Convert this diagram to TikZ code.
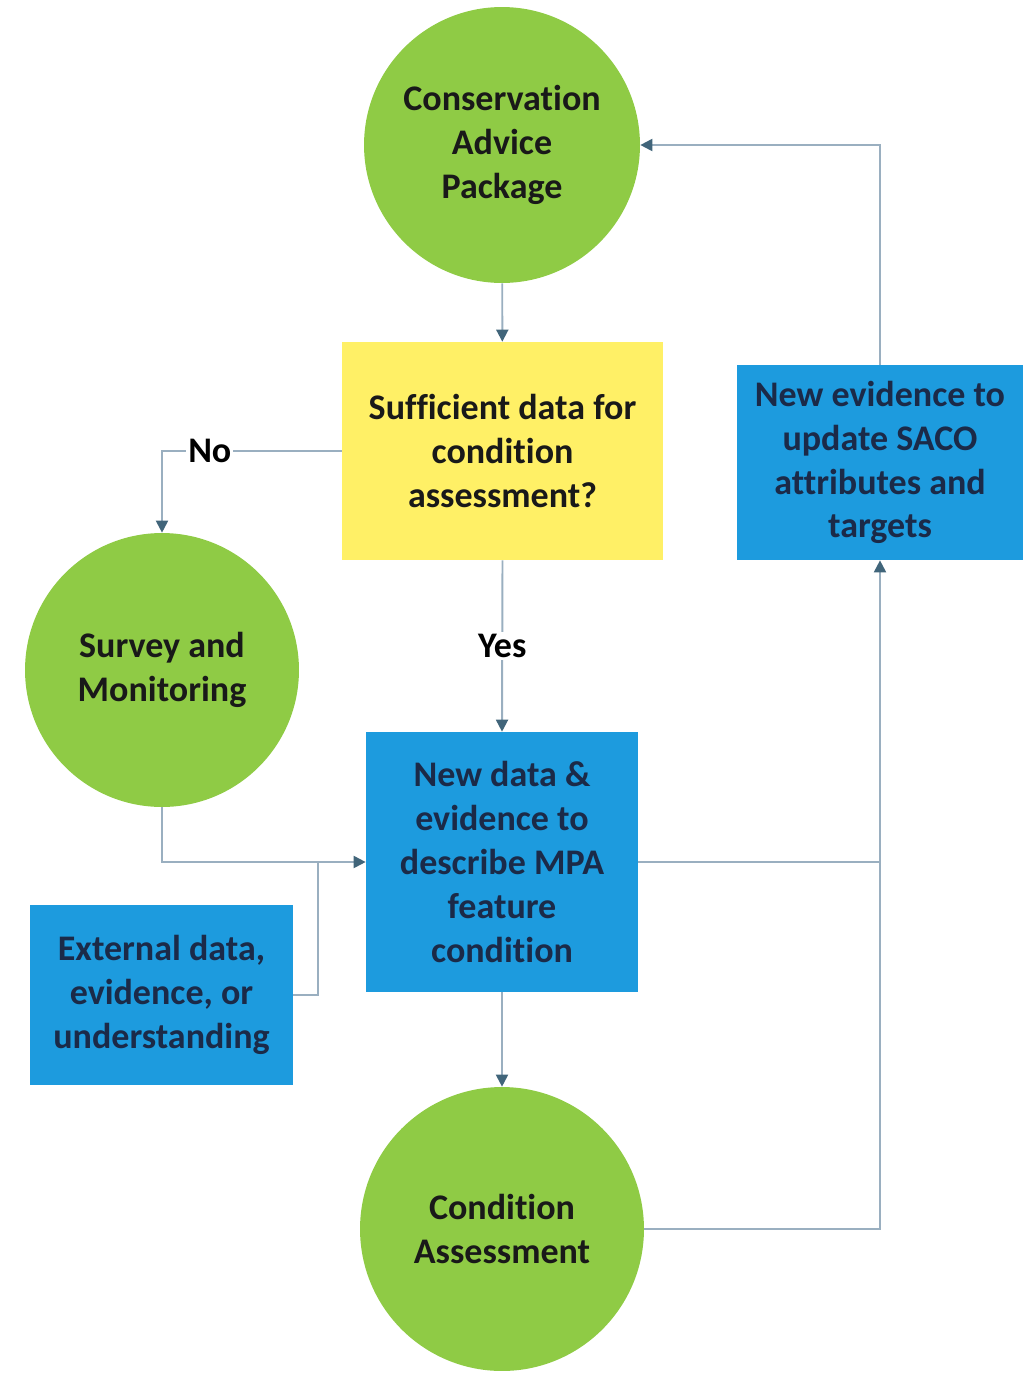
\documentclass[tikz,border=0pt]{standalone}
\usepackage{fontspec}
\setmainfont[Ligatures=NoCommon]{Carlito}
\usepackage{tikz}
\usetikzlibrary{arrows.meta}
\usetikzlibrary{shapes,calc}

\definecolor{leafgreen}{HTML}{8FCB45}
\definecolor{notepadyellow}{HTML}{FFF066}
\definecolor{seablue}{HTML}{1D9BDE}
\definecolor{wirecolor}{HTML}{9AAFC0}
\definecolor{tipcolor}{HTML}{41657A}
\definecolor{navytext}{HTML}{1B2A48}

\begin{document}
\begin{tikzpicture}[x=0.02cm,y=-0.02cm]
    \tikzstyle{shared}=[
      align=center,
      inner sep=0pt,
      font=\fontsize{20.5}{25}\selectfont\bfseries,
    ]
    \tikzstyle{stage}=[
      shared,
      circle,
      fill=leafgreen,
      text=black!90,
    ]
    \tikzstyle{question}=[
      shared,
      rectangle,
      fill=notepadyellow,
      text=black!90,
    ]
    \tikzstyle{evidence}=[
      shared,
      rectangle,
      fill=seablue,
      text=navytext,
    ]
    \tikzstyle{answer}=[
      font=\fontsize{20.5}{25}\selectfont\bfseries,
      fill=white,
      inner sep=1pt,
    ]
    \tikzstyle{wire}=[line width=1.1pt,draw=wirecolor]
    \tikzstyle{dedge}=[wire,-{Triangle[length=2.4mm,width=2.4mm,color=tipcolor]}]

    \useasboundingbox (0,0) rectangle (1033,1373);

    \node[stage,minimum size=5.52cm] (advice) at (502,145) {Conservation\\Advice\\Package};
    \node[question,minimum width=6.42cm,minimum height=4.36cm] (sufficient) at (502.5,451) {Sufficient data for\\condition\\assessment?};
    \node[evidence,minimum width=5.72cm,minimum height=3.9cm] (saco) at (880,462.5) {New evidence to\\update SACO\\attributes and\\targets};
    \node[stage,minimum size=5.48cm] (survey) at (162,670) {Survey and\\Monitoring};
    \node[evidence,minimum width=5.44cm,minimum height=5.2cm] (newdata) at (502,862) {New data \&\\evidence to\\describe MPA\\feature\\condition};
    \node[evidence,minimum width=5.26cm,minimum height=3.6cm] (external) at (161.5,995) {External data,\\evidence, or\\understanding};
    \node[stage,minimum size=5.68cm] (condition) at (502,1229) {Condition\\Assessment};

    \coordinate (left join) at (318,862);
    \coordinate (right join) at (880,862);

    \draw[dedge] (advice)--(sufficient);
    \draw[dedge] (sufficient.west) -| (survey.north)
      node[answer,pos=0.367] (no label) {No};
    \draw[dedge] (sufficient.south)--(newdata.north)
      node[answer,midway] (yes label) {Yes};
    \draw[dedge] (survey.south) |- (newdata.west);
    \draw[wire] (external.east) -| (left join);
    \draw[dedge] (newdata.east) -| (saco.south);
    \draw[wire] (condition.east) -| (right join);
    \draw[dedge] (newdata)--(condition);
    \draw[dedge] (saco.north) |- (advice.east);
  \end{tikzpicture}
\end{document}
